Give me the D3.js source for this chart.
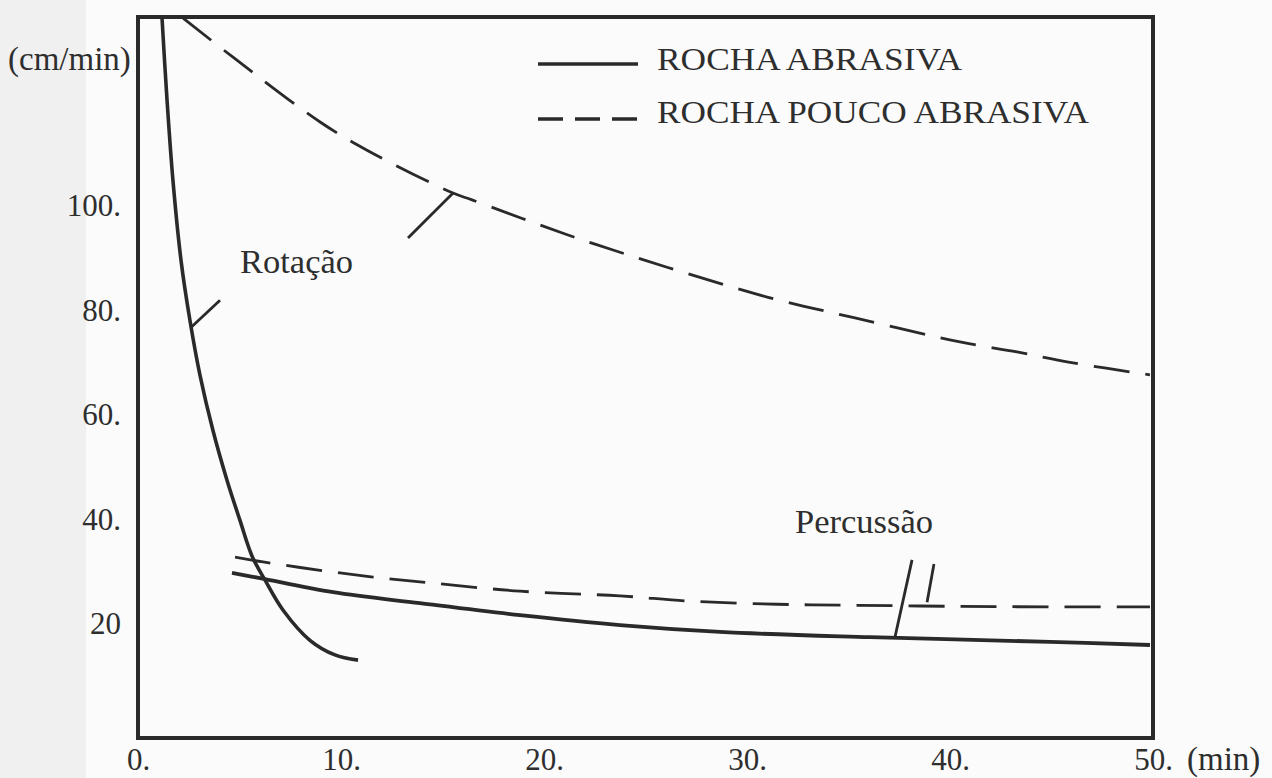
<!DOCTYPE html>
<html>
<head>
<meta charset="utf-8">
<script src="https://cdn.jsdelivr.net/npm/d3@7/dist/d3.min.js"></script>
<style>
  html, body { margin: 0; padding: 0; background: #fbfbfb; }
  svg { display: block; }
  text { font-family: "Liberation Serif", "DejaVu Serif", serif; fill: #2e2e2e; }
</style>
</head>
<body>
<svg id="chart" width="1272" height="778"></svg>
<script>
// ---- data (time in min, rate in cm/min) ----
const xTicks = [0, 10, 20, 30, 40, 50];
const xTickLabels = ["0.", "10.", "20.", "30.", "40.", "50."];
const yTicks = [20, 40, 60, 80, 100];
const yTickLabels = ["20", "40.", "60.", "80.", "100."];

const seriesNames = ["ROCHA ABRASIVA", "ROCHA POUCO ABRASIVA"];

// Rotação – rocha abrasiva (solid)
const rotAbrasX = [1.18, 1.43, 1.72, 2.12, 2.56, 3.05, 3.69, 4.38, 5.02, 5.62, 6.26, 7.14, 8.47, 9.70, 10.84];
const rotAbrasY = [136.1, 120.2, 104.9, 89.5, 78.0, 67.6, 57.0, 47.5, 39.8, 32.9, 28.3, 22.6, 16.8, 14.0, 13.0];

// Rotação – rocha pouco abrasiva (dashed)
const rotPoucoX = [2.22, 4.68, 8.97, 11.28, 15.52, 16.45, 20.94, 23.40, 26.06, 30.99, 35.32, 40.49, 43.30, 45.91, 49.85];
const rotPoucoY = [135.9, 128.4, 116.0, 110.6, 102.4, 101.1, 94.7, 91.5, 88.2, 82.5, 78.5, 73.9, 72.0, 70.0, 67.6];

// Percussão – rocha abrasiva (solid)
const perAbrasX = [4.63, 6.01, 9.61, 13.89, 18.82, 23.74, 28.67, 36.06, 44.93, 49.85];
const perAbrasY = [29.7, 28.7, 26.0, 23.9, 21.6, 19.7, 18.4, 17.4, 16.5, 15.9];

// Percussão – rocha pouco abrasiva (dashed)
const perPoucoX = [4.78, 6.16, 8.97, 11.58, 14.38, 18.82, 23.74, 27.19, 31.48, 35.47, 40.25, 44.93, 49.85];
const perPoucoY = [32.7, 31.8, 30.2, 28.9, 27.8, 26.2, 25.3, 24.3, 23.7, 23.5, 23.3, 23.2, 23.2];

// label pointer lines [x1, y1, x2, y2]
const pointerRot1 = [2.62, 76.7, 4.04, 81.9];
const pointerRot2 = [15.52, 102.4, 13.30, 93.8];
const pointerPer1 = [38.13, 32.2, 37.29, 17.4];
const pointerPer2 = [39.21, 31.4, 38.87, 24.1];

// ---- layout ----
const svg = d3.select("#chart");
const L = 138, R = 1153, T = 17, B = 738;
const x = d3.scaleLinear().domain([0, 50]).range([L, R]);
const y = d3.scaleLinear().domain([-1.9, 136.1]).range([B, T]);
const ink = "#2a2a2a";

// faint scan tone on the left
svg.append("rect").attr("x", 0).attr("y", 0).attr("width", 86).attr("height", 778).attr("fill", "#f0f0f0");
svg.append("rect").attr("x", 86).attr("y", 0).attr("width", 1186).attr("height", 778).attr("fill", "#fbfbfb");

// frame
svg.append("rect").attr("x", L).attr("y", T).attr("width", R - L).attr("height", B - T)
  .attr("fill", "none").attr("stroke", ink).attr("stroke-width", 4);

// axes (labels only)
const xAxis = svg.append("g").attr("transform", `translate(0,${B})`)
  .call(d3.axisBottom(x).tickValues(xTicks).tickSize(0).tickFormat((d, i) => xTickLabels[i]));
xAxis.select(".domain").remove();
xAxis.selectAll("text").attr("y", 32).attr("dy", 0).attr("font-size", 31)
  .attr("font-family", "Liberation Serif").attr("fill", "#333");

const yAxis = svg.append("g").attr("transform", `translate(${L},0)`)
  .call(d3.axisLeft(y).tickValues(yTicks).tickSize(0).tickPadding(17).tickFormat((d, i) => yTickLabels[i]));
yAxis.select(".domain").remove();
yAxis.selectAll("text").attr("font-size", 31).attr("font-family", "Liberation Serif").attr("fill", "#333");

svg.append("text").attr("x", 1187).attr("y", 770).attr("font-size", 33).text("(min)");
svg.append("text").attr("x", 8).attr("y", 70).attr("font-size", 33).text("(cm/min)");

// curves
const line = d3.line().x(d => x(d[0])).y(d => y(d[1])).curve(d3.curveCatmullRom.alpha(0.5));
function draw(xs, ys, dashed, w) {
  svg.append("path").datum(xs.map((v, i) => [v, ys[i]]))
    .attr("d", line).attr("fill", "none").attr("stroke", ink)
    .attr("stroke-width", w).attr("stroke-linecap", "butt")
    .attr("stroke-dasharray", dashed ? "36,16" : null);
}
draw(rotAbrasX, rotAbrasY, false, 3.6);
draw(rotPoucoX, rotPoucoY, true, 2.8);
draw(perAbrasX, perAbrasY, false, 3.8);
draw(perPoucoX, perPoucoY, true, 2.8);

// pointers
[pointerRot1, pointerRot2, pointerPer1, pointerPer2].forEach(p => {
  svg.append("line").attr("x1", x(p[0])).attr("y1", y(p[1])).attr("x2", x(p[2])).attr("y2", y(p[3]))
    .attr("stroke", ink).attr("stroke-width", 2.8);
});

// annotations
svg.append("text").attr("x", 240).attr("y", 273).attr("font-size", 33)
  .attr("textLength", 113).attr("lengthAdjust", "spacingAndGlyphs").text("Rotação");
svg.append("text").attr("x", 795).attr("y", 533).attr("font-size", 33)
  .attr("textLength", 138).attr("lengthAdjust", "spacingAndGlyphs").text("Percussão");

// legend
const legY = [64, 119];
const legW = [305, 432];
svg.append("line").attr("x1", 538).attr("x2", 638).attr("y1", legY[0]).attr("y2", legY[0])
  .attr("stroke", ink).attr("stroke-width", 3.6);
svg.append("line").attr("x1", 538).attr("x2", 640).attr("y1", legY[1]).attr("y2", legY[1])
  .attr("stroke", ink).attr("stroke-width", 3.6).attr("stroke-dasharray", "25,12");
seriesNames.forEach((s, i) => {
  svg.append("text").attr("x", 657).attr("y", legY[i] + 6 - (i ? 2 : 0)).attr("font-size", 31)
    .attr("textLength", legW[i]).attr("lengthAdjust", "spacingAndGlyphs").text(s);
});
</script>
</body>
</html>
